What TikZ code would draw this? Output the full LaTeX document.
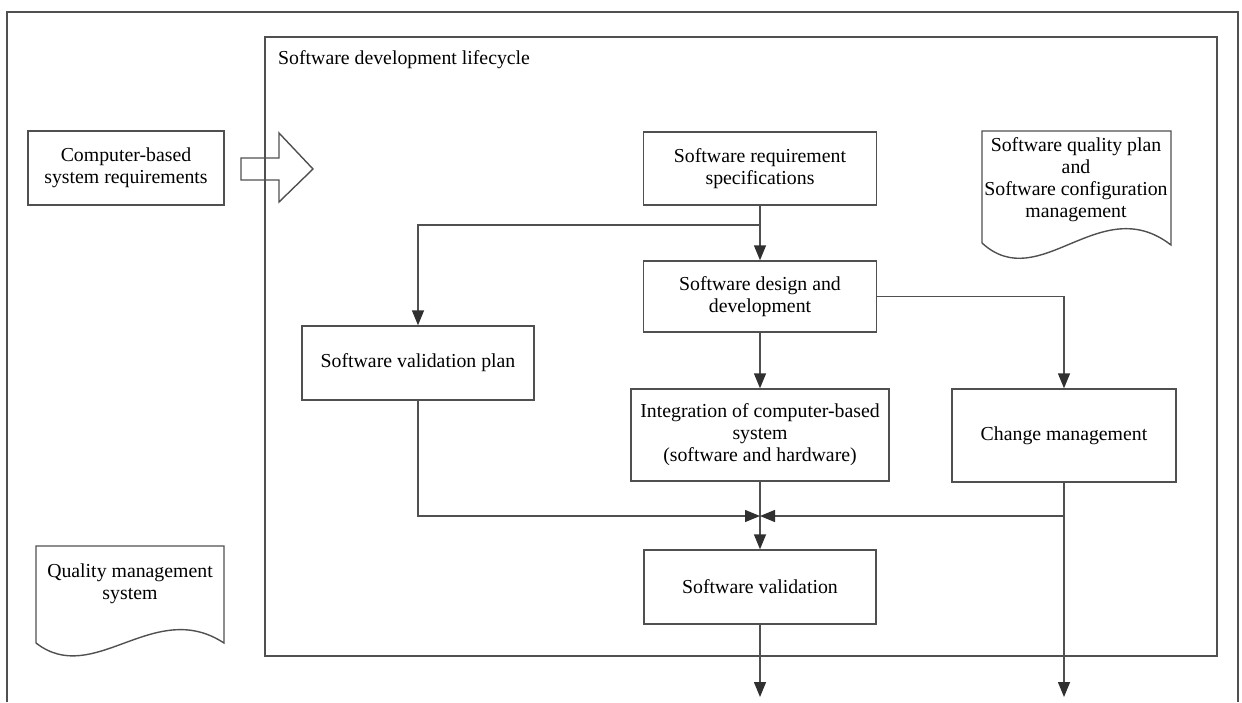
\documentclass[tikz,border=0pt]{standalone}
\usepackage{fontspec}
\setmainfont{Liberation Serif}
\usepackage{tikz}
\usetikzlibrary{arrows.meta}
\definecolor{linegray}{HTML}{505050}
\definecolor{tipgray}{HTML}{303030}
\tikzset{
    box/.style={draw=linegray, line width=1.4pt, align=center, inner sep=2pt}, % process boxes
    flow/.style={draw=linegray, line width=1.4pt, -{Triangle[length=15pt, width=12pt, color=tipgray]}}, % connectors
    frame/.style={draw=linegray, line width=1.4pt}
}

\begin{document}
\begin{tikzpicture}[x=1pt, y=-1pt, font=\fontsize{19.8}{22}\selectfont]
    \useasboundingbox (0,0) rectangle (1242,702);

    % outer frame, open at the bottom
    \draw[frame] (7,702) -- (7,12) -- (1238,12) -- (1238,702);
    % lifecycle frame
    \draw[frame] (265,37) rectangle (1217,656);
    \node[anchor=west, inner sep=0] (title) at (278,60) {Software development lifecycle};

    \node[box, minimum width=196pt, minimum height=74pt] (cbsr) at (126,168)
        {Computer-based\\system requirements};
    % hollow input arrow
    \draw[draw=linegray, line width=1.4pt]
        (241,158) -- (279,158) -- (279,133) -- (313,169) -- (279,202) -- (279,180) -- (241,180) -- cycle;

    \node[box, minimum width=233pt, minimum height=73pt] (srs) at (760,168.5)
        {Software requirement\\specifications};
    \node[box, minimum width=233pt, minimum height=71pt] (design) at (760,296.5)
        {Software design and\\development};
    \node[box, minimum width=232pt, minimum height=74pt] (valplan) at (418,363)
        {Software validation plan};
    \node[box, minimum width=258pt, minimum height=92pt] (integ) at (760,435)
        {Integration of computer-based\\system\\(software and hardware)};
    \node[box, minimum width=224pt, minimum height=93pt] (change) at (1064,435.5)
        {Change management};
    \node[box, minimum width=232pt, minimum height=74pt] (validation) at (760,587)
        {Software validation};

    % documents
    \draw[frame] (982,243) -- (982,131) -- (1171,131) -- (1171,245)
        .. controls (1100,190) and (1040,296) .. (982,243);
    \node[align=center, inner sep=0] (sqp) at (1076,180)
        {Software quality plan\\and\\Software configuration\\management};
    \draw[frame] (36,643) -- (36,546) -- (224,546) -- (224,643)
        .. controls (154,597) and (94,688) .. (36,643);
    \node[align=center, inner sep=0] (qms) at (130,584)
        {Quality management\\system};

    \coordinate (split) at (760,225);
    \coordinate (merge) at (760,516);
    \coordinate (out) at (0,697);

    \draw[flow] (srs) -- (design);
    \draw[flow] (split) -| (valplan.north);
    \draw[flow] (design.east) -| (change.north);
    \draw[flow] (design) -- (integ);
    \draw[flow] (integ) -- (validation);
    \draw[flow] (valplan.south) |- (merge);
    \draw[flow] (change.south |- merge) -- (merge);

    \foreach \src in {validation, change} {
        \draw[flow] (\src.south) -- (\src.south |- out);
    }
\end{tikzpicture}
\end{document}
